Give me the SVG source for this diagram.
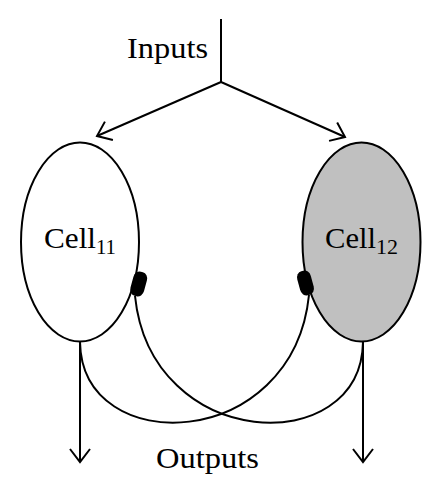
<svg xmlns="http://www.w3.org/2000/svg" width="442" height="500" viewBox="0 0 442 500">
<style>
  .ln { fill: none; stroke: #000; stroke-width: 2; }
  .cell { stroke: #000; stroke-width: 2; }
  .blob { fill: #000; }
  .t { font-family: "Liberation Serif", "Times New Roman", serif; fill: #000; }
  .big { font-size: 30px; }
  .sub { font-size: 21px; }
</style>
<defs>
  <marker id="arr" markerUnits="userSpaceOnUse" markerWidth="30" markerHeight="30" refX="0" refY="0" viewBox="-15 -15 30 30" orient="auto" overflow="visible">
    <path d="M-13,-10 L0,0 L-13,10" fill="none" stroke="#000" stroke-width="2"/>
  </marker>
</defs>
<rect width="442" height="500" fill="#fff"/>
<g id="connectors">
  <path class="ln" d="M221,19 L221,82"/>
  <path class="ln" d="M221,82 L97,136" marker-end="url(#arr)"/>
  <path class="ln" d="M221,82 L345,137" marker-end="url(#arr)"/>
  <path class="ln" d="M80,342 L80,462" marker-end="url(#arr)"/>
  <path class="ln" d="M363,342 L363,462" marker-end="url(#arr)"/>
  <path class="ln" d="M80,342 C82,460 293,452 309,295"/>
  <path class="ln" d="M363,342 C361,460 151,452 135,296"/>
</g>
<g id="cell11">
  <ellipse class="cell" cx="80" cy="242" rx="59" ry="99.5" fill="#fff"/>
  <rect class="blob" x="-7" y="-12.5" width="14" height="25" rx="6" ry="7" transform="translate(138.7 284) rotate(15)"/>
  <text class="t"><tspan class="big" x="44" y="248" textLength="52" lengthAdjust="spacingAndGlyphs">Cell</tspan><tspan class="sub" x="96" y="254" textLength="20" lengthAdjust="spacingAndGlyphs">11</tspan></text>
</g>
<g id="cell12">
  <ellipse class="cell" cx="361.5" cy="242" rx="59" ry="99.5" fill="#c0c0c0"/>
  <rect class="blob" x="-7" y="-12.5" width="14" height="25" rx="6" ry="7" transform="translate(305.5 283) rotate(-15)"/>
  <text class="t"><tspan class="big" x="325" y="248" textLength="51" lengthAdjust="spacingAndGlyphs">Cell</tspan><tspan class="sub" x="376" y="254" textLength="22" lengthAdjust="spacingAndGlyphs">12</tspan></text>
</g>
<g id="labels">
  <text class="t big" x="127" y="58" textLength="81" lengthAdjust="spacingAndGlyphs">Inputs</text>
  <text class="t big" x="156" y="468" textLength="103" lengthAdjust="spacingAndGlyphs">Outputs</text>
</g>
</svg>
